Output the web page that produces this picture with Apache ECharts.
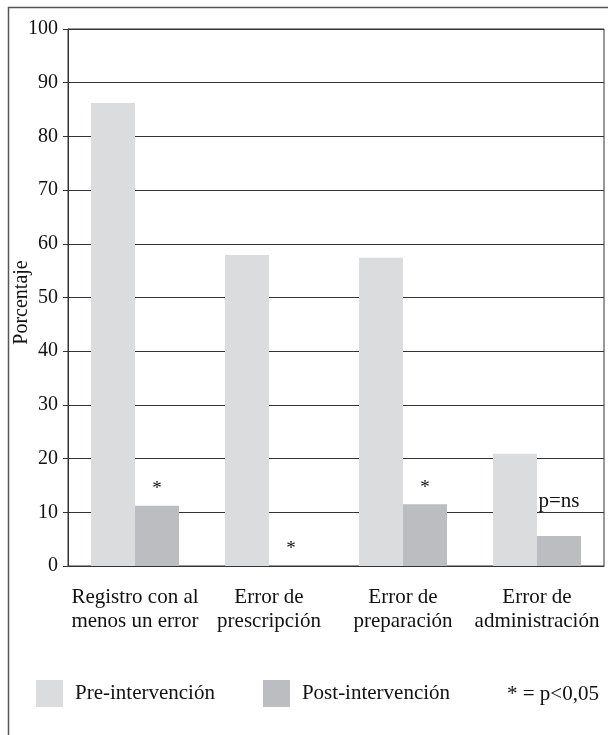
<!DOCTYPE html>
<html style="height: 100%">
<head>
    <meta charset="UTF-8">
    <title>Porcentaje de errores</title>
</head>
<body style="height: 100%; margin: 0; background: #fff">
<div id="container" style="width: 608px; height: 735px"></div>

<script type="text/javascript" src="https://cdn.jsdelivr.net/npm/echarts@6/dist/echarts.min.js"></script>
<script type="text/javascript">
    var categories = ['Registro con al\nmenos un error', 'Error de\nprescripción', 'Error de\npreparación', 'Error de\nadministración'];
    var preValues = [86.2, 57.9, 57.4, 20.9];
    var postValues = [11.2, 0, 11.5, 5.6];
    var postMarks = ['*', '*', '*', 'p=ns'];
    var yTicks = [0, 10, 20, 30, 40, 50, 60, 70, 80, 90, 100];

    var serif = 'Liberation Serif';
    var chart = echarts.init(document.getElementById('container'));

    // post bars carry the significance marks; "p=ns" sits higher and larger than the asterisks
    var postData = postValues.map(function (v, i) {
        var star = postMarks[i] === '*';
        return { value: v, label: { distance: star ? 7 : 24, fontSize: star ? 19 : 21 } };
    });

    var option = {
        backgroundColor: '#fff',
        animation: false,
        textStyle: { fontFamily: serif, color: '#111' },
        grid: {
            left: 68, right: 4, top: 29, bottom: 169,
            outerBoundsMode: 'none',
            containLabel: false,
            show: true, borderColor: '#333', borderWidth: 1
        },
        legend: {
            left: 36, top: 680, padding: 0,
            itemWidth: 27, itemHeight: 27, itemGap: 48,
            icon: 'rect',
            textStyle: { fontFamily: serif, fontSize: 21, color: '#111', padding: [0, 0, 0, 7] },
            data: ['Pre-intervención', 'Post-intervención']
        },
        graphic: [
            {
                type: 'rect', silent: true,
                shape: { x: 8.5, y: 7.5, width: 620, height: 740 },
                style: { fill: 'none', stroke: '#555', lineWidth: 1.5 }
            },
            {
                type: 'text', left: 507, top: 684,
                style: { text: '* = p<0,05', font: '21px "Liberation Serif"', fill: '#111' }
            }
        ],
        xAxis: {
            type: 'category',
            data: categories,
            axisLine: { lineStyle: { color: '#333', width: 1 } },
            axisTick: { show: false },
            axisLabel: { fontSize: 21, lineHeight: 24, margin: 19, color: '#111', fontFamily: serif, interval: 0 }
        },
        yAxis: {
            type: 'value',
            min: 0, max: yTicks[yTicks.length - 1], interval: 10,
            name: 'Porcentaje',
            nameLocation: 'middle',
            nameGap: 36,
            nameMoveOverlap: false,
            nameRotate: 90,
            nameTextStyle: { fontSize: 20, fontFamily: serif, color: '#111', padding: [0, 10, 0, 0] },
            axisLine: { show: true, lineStyle: { color: '#333', width: 1 } },
            axisTick: { show: true, inside: false, length: 5, lineStyle: { color: '#333' } },
            axisLabel: { fontSize: 20, margin: 10, color: '#111', fontFamily: serif },
            splitLine: { show: true, lineStyle: { color: '#333', width: 1 } }
        },
        series: [
            {
                name: 'Pre-intervención',
                type: 'bar',
                data: preValues,
                barWidth: 44,
                barGap: '0%',
                itemStyle: { color: '#dbdcde' }
            },
            {
                name: 'Post-intervención',
                type: 'bar',
                data: postData,
                barWidth: 44,
                itemStyle: { color: '#bcbdc0' },
                label: {
                    show: true,
                    position: 'top',
                    fontFamily: serif,
                    color: '#111',
                    formatter: function (p) { return postMarks[p.dataIndex]; }
                }
            }
        ]
    };

    chart.setOption(option);
</script>
</body>
</html>
